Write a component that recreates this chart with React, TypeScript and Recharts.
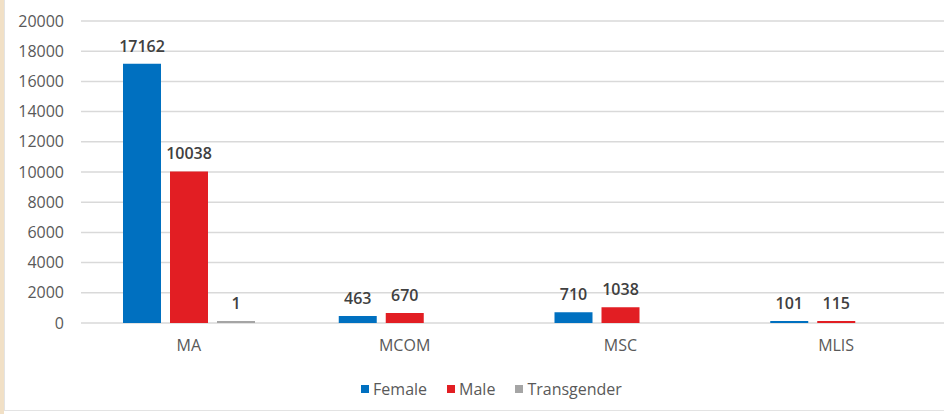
import React from 'react';
import { BarChart, Bar, XAxis, YAxis, CartesianGrid, Legend, LabelList } from 'recharts';

const categories = ['MA', 'MCOM', 'MSC', 'MLIS'];
const female = [17162, 463, 710, 101];
const male = [10038, 670, 1038, 115];
const transgender: (number | null)[] = [1, null, null, null];
const yTicks = [0, 2000, 4000, 6000, 8000, 10000, 12000, 14000, 16000, 18000, 20000];

const seriesNames = ['Female', 'Male', 'Transgender'];
const seriesColors = ['#0070C0', '#E21E23', '#A5A5A5'];

const data = categories.map((c, i) => ({
  name: c,
  Female: female[i],
  Male: male[i],
  Transgender: transgender[i],
}));

const FONT = '"Open Sans", "Noto Sans", sans-serif';

const labelFmt = (v: any) => (v === null || v === undefined ? '' : String(v));

const LegendContent = () => (
  <div
    style={{
      height: 51,
      display: 'flex',
      alignItems: 'center',
      justifyContent: 'center',
      paddingLeft: 39,
      fontFamily: FONT,
      fontSize: 16,
      color: '#595959',
      boxSizing: 'border-box',
    }}
  >
    {seriesNames.map((n, i) => (
      <div key={n} style={{ display: 'flex', alignItems: 'center', marginRight: i < 2 ? 20 : 0 }}>
        <span style={{ width: 8, height: 8, background: seriesColors[i], display: 'inline-block', marginRight: 4 }} />
        <span>{n}</span>
      </div>
    ))}
  </div>
);

export default function App() {
  return (
    <div style={{ position: 'fixed', left: 0, top: 0, width: 944, height: 414, background: '#ffffff' }}>
      <BarChart
        width={944}
        height={414}
        data={data}
        margin={{ top: 21, right: 0, left: 0, bottom: 0 }}
        barGap={9}
        barSize={38}
      >
        <CartesianGrid vertical={false} stroke="#D9D9D9" strokeWidth={1.5} />
        <XAxis
          dataKey="name"
          height={40}
          axisLine={false}
          tickLine={false}
          tickSize={0}
          tickMargin={17}
          tick={{ fill: '#595959', fontSize: 16, fontFamily: FONT }}
        />
        <YAxis
          width={81}
          domain={[0, 20000]}
          ticks={yTicks}
          axisLine={false}
          tickLine={false}
          tickSize={0}
          tickMargin={17}
          tick={{ fill: '#595959', fontSize: 16, fontFamily: FONT }}
        />
        <Legend verticalAlign="bottom" content={<LegendContent />} />
        {seriesNames.map((n, i) => (
          <Bar
            key={n}
            dataKey={n}
            fill={seriesColors[i]}
            isAnimationActive={false}
            minPointSize={(v: any) => (v ? 2 : 0)}
          >
            <LabelList
              dataKey={n}
              position="top"
              offset={12}
              formatter={labelFmt}
              style={{ fill: '#404040', fontSize: 16, fontFamily: FONT, fontWeight: 600 }}
            />
          </Bar>
        ))}
      </BarChart>
      <div style={{ position: 'absolute', left: 0, top: 0, width: 4, height: 414, background: '#F1E0C6' }} />
      <div style={{ position: 'absolute', left: 4, top: 0, width: 1, height: 411, background: '#E3E3E3' }} />
      <div style={{ position: 'absolute', left: 4, top: 410, width: 940, height: 1, background: '#E3E3E3' }} />
    </div>
  );
}
